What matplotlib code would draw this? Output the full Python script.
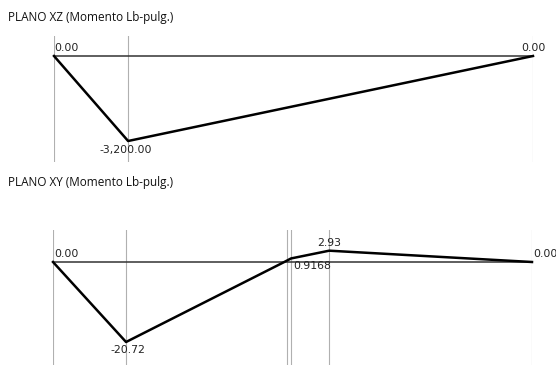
import matplotlib
matplotlib.use("Agg")
import matplotlib.pyplot as plt

# Diagrama de momentos, plano XZ
xz_pos = [0.0, 4.95, 32.0]
xz_mom = [0.0, -3200.0, 0.0]
xz_labels = ["0.00", "-3,200.00", "0.00"]

# Diagrama de momentos, plano XY
xy_pos = [0.0, 4.88, 15.45, 15.9, 18.45, 32.0]
xy_mom = [0.0, -20.72, 0.0, 0.9168, 2.93, 0.0]
xy_grid = [0.0, 4.88, 15.6, 15.9, 18.45, 32.0]

W, H = 556, 368
fig = plt.figure(figsize=(W / 100, H / 100), dpi=100)
fig.patch.set_facecolor("white")

TITLE_FONT = dict(family=["Open Sans", "DejaVu Sans"], fontsize=8.5, color="#111111")
VAL_FONT = dict(family=["DejaVu Sans"], fontsize=7.8, color="#222222")


def make_axes(px_left, px_right, px_top, px_bottom):
    return fig.add_axes([px_left / W, 1 - px_bottom / H,
                         (px_right - px_left) / W, (px_bottom - px_top) / H])


def style(ax):
    ax.set_axis_off()
    ax.set_xlim(0, 32)


# ---- Plano XZ ----
fig.text(8 / W, 1 - 18 / H, "PLANO XZ (Momento Lb-pulg.)", va="center", ha="left", **TITLE_FONT)
ax1 = make_axes(54, 533, 36, 162)
style(ax1)
scale1 = 85 / 3200.0  # px por unidad
ax1.set_ylim(-(162 - 56) / scale1, (56 - 36) / scale1)
for x in xz_pos:
    ax1.axvline(x, color="#b0b0b0", lw=0.8, zorder=1)
ax1.plot([xz_pos[0], xz_pos[-1]], [0, 0], color="#333333", lw=1.1, zorder=2, clip_on=False)
ax1.plot(xz_pos, xz_mom, color="black", lw=1.8, zorder=3, clip_on=False)
ax1.annotate(xz_labels[0], (xz_pos[0], xz_mom[0]), xytext=(0, 3), textcoords="offset pixels",
             ha="left", va="bottom", **VAL_FONT)
ax1.annotate(xz_labels[1], (xz_pos[1], xz_mom[1]), xytext=(-2, -4), textcoords="offset pixels",
             ha="center", va="top", **VAL_FONT)
ax1.annotate(xz_labels[2], (xz_pos[2], xz_mom[2]), xytext=(0, 3), textcoords="offset pixels",
             ha="center", va="bottom", **VAL_FONT)

# ---- Plano XY ----
fig.text(8 / W, 1 - 183 / H, "PLANO XY (Momento Lb-pulg.)", va="center", ha="left", **TITLE_FONT)
ax2 = make_axes(53, 532, 230, 365)
style(ax2)
scale2 = 80 / 20.72
ax2.set_ylim(-(365 - 262) / scale2, (262 - 230) / scale2)
for x in xy_grid:
    ax2.axvline(x, color="#b0b0b0", lw=0.8, zorder=1)
ax2.plot([xy_pos[0], xy_pos[-1]], [0, 0], color="#333333", lw=1.1, zorder=2, clip_on=False)
ax2.plot(xy_pos, xy_mom, color="black", lw=1.8, zorder=3, clip_on=False)
ax2.annotate(f"{xy_mom[0]:.2f}", (xy_pos[0], xy_mom[0]), xytext=(1, 3), textcoords="offset pixels",
             ha="left", va="bottom", **VAL_FONT)
ax2.annotate(f"{xy_mom[1]:.2f}", (xy_pos[1], xy_mom[1]), xytext=(2, -3), textcoords="offset pixels",
             ha="center", va="top", **VAL_FONT)
ax2.annotate(f"{xy_mom[3]:.4f}", (xy_pos[3], xy_mom[3]), xytext=(2, -3), textcoords="offset pixels",
             ha="left", va="top", **VAL_FONT)
ax2.annotate(f"{xy_mom[4]:.2f}", (xy_pos[4], xy_mom[4]), xytext=(0, 3), textcoords="offset pixels",
             ha="center", va="bottom", **VAL_FONT)
ax2.annotate(f"{xy_mom[5]:.2f}", (xy_pos[5], xy_mom[5]), xytext=(1, 3), textcoords="offset pixels",
             ha="left", va="bottom", **VAL_FONT)

fig.savefig("out.png", dpi=100, facecolor="white")
